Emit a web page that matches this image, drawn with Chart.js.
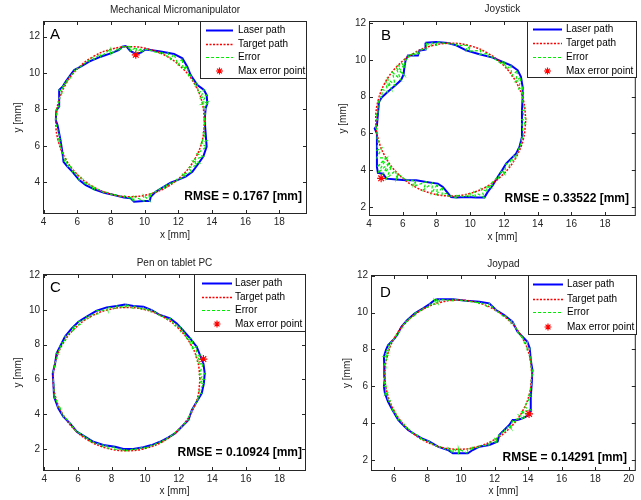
<!DOCTYPE html>
<html>
<head>
<meta charset="utf-8">
<script src="https://cdn.jsdelivr.net/npm/chart.js@4.4.1/dist/chart.umd.min.js"></script>
<style>
  body { margin: 0; background: #fff; }
  #wrap { position: relative; width: 641px; height: 500px; }
  canvas { position: absolute; }
</style>
</head>
<body>
<div id="wrap">
  <canvas id="panelA" width="320" height="250" style="left:0;top:0"></canvas>
  <canvas id="panelB" width="321" height="250" style="left:320px;top:0"></canvas>
  <canvas id="panelC" width="320" height="250" style="left:0;top:250px"></canvas>
  <canvas id="panelD" width="321" height="250" style="left:320px;top:250px"></canvas>
</div>
<script>
// ---- data ----
const titles = ['Mechanical Micromanipulator', 'Joystick', 'Pen on tablet PC', 'Joypad'];
const letters = ['A', 'B', 'C', 'D'];
const rmseText = ['RMSE = 0.1767 [mm]', 'RMSE = 0.33522 [mm]', 'RMSE = 0.10924 [mm]', 'RMSE = 0.14291 [mm]'];
const legendLabels = ['Laser path', 'Target path', 'Error', 'Max error point'];

const xTicksA = [4, 6, 8, 10, 12, 14, 16, 18];
const yTicksA = [4, 6, 8, 10, 12];
const xTicksB = [4, 6, 8, 10, 12, 14, 16, 18];
const yTicksB = [2, 4, 6, 8, 10, 12];
const xTicksC = [4, 6, 8, 10, 12, 14, 16, 18];
const yTicksC = [2, 4, 6, 8, 10, 12];
const xTicksD = [6, 8, 10, 12, 14, 16, 18, 20];
const yTicksD = [2, 4, 6, 8, 10, 12];

// target paths (every 15 degrees, closed)
const targetA = [[13.57,7.33],[13.42,8.40],[12.98,9.39],[12.28,10.24],[11.36,10.90],[10.29,11.31],[9.15,11.45],[8.01,11.31],[6.94,10.90],[6.02,10.24],[5.32,9.39],[4.88,8.40],[4.73,7.33],[4.88,6.26],[5.32,5.27],[6.02,4.42],[6.94,3.76],[8.01,3.35],[9.15,3.21],[10.29,3.35],[11.36,3.76],[12.28,4.42],[12.98,5.27],[13.42,6.26],[13.57,7.33]];
const targetB = [[13.30,6.75],[13.15,7.82],[12.70,8.83],[12.00,9.68],[11.08,10.34],[10.00,10.76],[8.85,10.90],[7.70,10.76],[6.62,10.34],[5.70,9.68],[5.00,8.83],[4.55,7.82],[4.40,6.75],[4.55,5.68],[5.00,4.67],[5.70,3.82],[6.62,3.16],[7.70,2.74],[8.85,2.60],[10.00,2.74],[11.08,3.16],[12.00,3.82],[12.70,4.67],[13.15,5.68],[13.30,6.75]];
const targetC = [[13.27,6.02],[13.12,7.09],[12.68,8.08],[11.99,8.93],[11.09,9.59],[10.03,10.00],[8.90,10.14],[7.77,10.00],[6.71,9.59],[5.81,8.93],[5.12,8.08],[4.68,7.09],[4.53,6.02],[4.68,4.95],[5.12,3.96],[5.81,3.11],[6.71,2.45],[7.77,2.04],[8.90,1.90],[10.03,2.04],[11.09,2.45],[11.99,3.11],[12.68,3.96],[13.12,4.95],[13.27,6.02]];
const targetD = [[14.23,6.63],[14.08,7.68],[13.64,8.66],[12.95,9.49],[12.04,10.14],[10.98,10.54],[9.85,10.68],[8.72,10.54],[7.66,10.14],[6.75,9.49],[6.06,8.66],[5.62,7.68],[5.47,6.63],[5.62,5.58],[6.06,4.60],[6.75,3.77],[7.66,3.12],[8.72,2.72],[9.85,2.58],[10.98,2.72],[12.04,3.12],[12.95,3.77],[13.64,4.60],[14.08,5.58],[14.23,6.63]];

// laser paths
const laserA = [[8.90,11.49],[9.15,11.22],[9.48,11.05],[9.78,11.12],[10.05,11.30],[10.96,11.18],[11.75,11.05],[12.25,10.81],[12.54,10.35],[12.74,9.89],[13.14,9.34],[13.53,9.07],[13.69,8.79],[13.73,8.34],[13.63,8.06],[13.57,7.42],[13.63,6.69],[13.69,5.96],[13.49,5.41],[13.14,4.95],[12.84,4.58],[12.44,4.31],[11.95,4.12],[11.55,3.98],[11.16,3.76],[10.66,3.48],[10.37,3.21],[10.31,2.97],[9.97,2.97],[9.38,2.93],[9.18,3.12],[8.79,3.17],[8.19,3.30],[7.60,3.43],[7.01,3.61],[6.51,3.85],[6.12,4.12],[5.72,4.58],[5.42,4.86],[5.19,5.13],[5.13,5.59],[5.07,5.96],[4.99,6.41],[4.83,7.15],[4.73,7.42],[4.77,7.97],[4.93,8.15],[4.93,8.61],[4.93,9.07],[5.13,9.25],[5.32,9.53],[5.52,9.80],[5.82,10.17],[6.21,10.35],[6.71,10.63],[7.40,10.90],[7.99,11.08],[8.49,11.27],[8.68,11.45],[8.90,11.49]];
const laserB = [[7.35,10.93],[7.98,10.97],[8.67,10.91],[9.17,10.79],[9.76,10.51],[10.55,10.30],[11.34,10.12],[11.93,9.88],[12.42,9.70],[12.82,9.43],[13.01,9.07],[13.11,8.52],[13.11,7.98],[13.07,7.25],[13.07,6.53],[13.07,5.80],[12.92,5.26],[12.72,4.90],[12.42,4.63],[12.13,4.36],[11.89,3.99],[11.63,3.63],[11.34,3.18],[11.04,2.82],[10.84,2.51],[10.35,2.51],[9.76,2.54],[9.17,2.51],[8.87,2.54],[8.67,2.76],[8.38,3.09],[8.08,3.27],[7.39,3.36],[6.80,3.45],[6.21,3.45],[5.62,3.50],[5.03,3.54],[4.83,3.81],[4.53,3.85],[4.47,4.17],[4.47,5.08],[4.47,5.99],[4.34,6.26],[4.47,6.44],[4.53,7.07],[4.59,7.71],[4.75,7.95],[5.10,8.25],[5.55,8.60],[5.90,8.90],[6.05,9.20],[6.10,9.60],[6.17,9.97],[6.31,10.24],[6.90,10.24],[7.00,10.51],[7.35,10.55],[7.35,10.93]];
const laserC = [[8.81,10.31],[9.30,10.22],[9.90,10.18],[10.39,9.99],[10.89,9.70],[11.49,9.51],[11.88,9.22],[12.24,8.84],[12.68,8.36],[13.07,7.88],[13.27,7.40],[13.47,6.92],[13.55,6.35],[13.50,5.77],[13.37,5.20],[13.07,4.72],[12.78,4.24],[12.58,3.67],[12.18,3.28],[11.78,2.90],[11.39,2.67],[10.89,2.42],[10.39,2.23],[9.90,2.10],[9.30,2.00],[8.71,2.00],[8.21,2.13],[7.51,2.23],[6.92,2.42],[6.42,2.71],[5.93,3.00],[5.53,3.48],[5.13,3.86],[4.83,4.34],[4.58,5.01],[4.54,5.77],[4.50,6.35],[4.64,6.92],[4.73,7.50],[4.93,7.88],[5.23,8.46],[5.63,8.93],[6.03,9.32],[6.52,9.61],[7.12,9.95],[7.71,10.14],[8.31,10.22],[8.81,10.31]];
const laserD = [[8.53,10.72],[9.52,10.72],[10.31,10.64],[11.10,10.59],[11.69,10.50],[12.09,10.14],[12.58,9.87],[13.08,9.50],[13.37,8.96],[13.67,8.69],[13.96,8.42],[14.10,8.06],[14.16,7.42],[14.26,6.88],[14.22,6.16],[14.16,5.44],[14.16,4.71],[14.06,4.44],[13.67,4.26],[13.37,4.17],[13.08,4.17],[12.88,3.90],[12.58,3.63],[12.28,3.36],[12.19,3.00],[11.69,2.81],[11.10,2.72],[10.70,2.54],[10.41,2.36],[9.91,2.36],[9.52,2.36],[9.22,2.54],[8.63,2.72],[8.13,3.00],[7.64,3.18],[7.15,3.45],[6.85,3.63],[6.55,3.90],[6.26,4.17],[5.92,4.71],[5.66,5.16],[5.47,5.62],[5.41,5.98],[5.47,6.52],[5.43,7.15],[5.41,7.61],[5.53,7.97],[5.66,8.24],[5.96,8.51],[6.20,8.78],[6.45,9.23],[6.79,9.59],[7.25,9.96],[7.74,10.23],[8.13,10.46],[8.43,10.68],[8.53,10.72]];

// max error points
const starA = [9.48, 11.0];
const starB = [4.72, 3.56];
const starC = [13.47, 7.17];
const starD = [14.06, 4.50];

// ---- look ----
const FONT = '"Liberation Sans", Arial, Helvetica, sans-serif';
const AXIS_COLOR = '#262626';
const LASER_COLOR = '#0000ff';
const TARGET_COLOR = '#ff0000';
const ERROR_COLOR = '#00ee00';

const panels = [
  { id: 'panelA', n: 0, laser: laserA, target: targetA, star: starA, xTicks: xTicksA, yTicks: yTicksA,
    xRange: [3.97, 19.65], yRange: [2.26, 12.86], w: 320, h: 250,
    area: { left: 43, top: 21, right: 307, bottom: 214 },
    titleY: 10, letterPos: [50, 35], rmsePos: [302, 197], xLabelY: 235, yLabelX: 18,
    legend: { left: 200, top: 21, right: 307, bottom: 79, rows: [30, 44, 57, 71], s0: 206, s1: 233, tx: 238 } },
  { id: 'panelB', n: 1, laser: laserB, target: targetB, star: starB, xTicks: xTicksB, yTicks: yTicksB,
    xRange: [4.0, 19.82], yRange: [1.51, 12.11], w: 321, h: 250,
    area: { left: 49, top: 21, right: 317, bottom: 216 },
    titleY: 9, letterPos: [61, 36], rmsePos: [309, 199], xLabelY: 237, yLabelX: 23,
    legend: { left: 207, top: 21, right: 317, bottom: 78, rows: [29, 43, 57, 71], s0: 213, s1: 242, tx: 246 } },
  { id: 'panelC', n: 2, laser: laserC, target: targetC, star: starC, xTicks: xTicksC, yTicks: yTicksC,
    xRange: [3.92, 19.58], yRange: [0.74, 12.06], w: 320, h: 250,
    area: { left: 43, top: 24, right: 306, bottom: 221 },
    titleY: 13, letterPos: [50, 38], rmsePos: [302, 203], xLabelY: 241, yLabelX: 18,
    legend: { left: 194, top: 24, right: 306, bottom: 82, rows: [33, 47, 60, 74], s0: 202, s1: 232, tx: 235 } },
  { id: 'panelD', n: 3, laser: laserD, target: targetD, star: starD, xTicks: xTicksD, yTicks: yTicksD,
    xRange: [4.64, 20.42], yRange: [1.40, 12.04], w: 321, h: 250,
    area: { left: 51, top: 25, right: 317, bottom: 221 },
    titleY: 14, letterPos: [60, 43], rmsePos: [307, 208], xLabelY: 241, yLabelX: 27,
    legend: { left: 208, top: 25, right: 317, bottom: 85, rows: [34, 49, 62, 77], s0: 213, s1: 243, tx: 247 } }
];

// nearest point on a polyline
function nearestOnPath(p, path) {
  let best = path[0], bd = Infinity;
  for (let i = 0; i < path.length - 1; i++) {
    const [x1, y1] = path[i], [x2, y2] = path[i + 1];
    const dx = x2 - x1, dy = y2 - y1;
    const len = dx * dx + dy * dy;
    if (len === 0) continue;
    let t = ((p[0] - x1) * dx + (p[1] - y1) * dy) / len;
    t = Math.max(0, Math.min(1, t));
    const qx = x1 + t * dx, qy = y1 + t * dy;
    const d = (qx - p[0]) ** 2 + (qy - p[1]) ** 2;
    if (d < bd) { bd = d; best = [qx, qy]; }
  }
  return best;
}

// error trace: zig-zag between laser and target, ordered around the target
function errorPoints(laser, target) {
  const pairs = [];
  laser.forEach(pt => pairs.push([pt, nearestOnPath(pt, target)]));
  target.slice(0, -1).forEach(pt => pairs.push([nearestOnPath(pt, laser), pt]));
  const cx = target.reduce((s, t) => s + t[0], 0) / target.length;
  const cy = target.reduce((s, t) => s + t[1], 0) / target.length;
  const ang = q => Math.atan2(q[1] - cy, q[0] - cx);
  pairs.sort((u, v) => ang(u[1]) - ang(v[1]));
  const out = [];
  pairs.forEach(([l, t]) => out.push({ x: l[0], y: l[1] }, { x: t[0], y: t[1] }));
  return out;
}

function drawStar(ctx, x, y, r) {
  ctx.save();
  ctx.strokeStyle = TARGET_COLOR;
  ctx.lineWidth = 1.2;
  ctx.beginPath();
  ctx.moveTo(x - r, y); ctx.lineTo(x + r, y);
  ctx.moveTo(x, y - r); ctx.lineTo(x, y + r);
  const d = r * 0.7;
  ctx.moveTo(x - d, y - d); ctx.lineTo(x + d, y + d);
  ctx.moveTo(x - d, y + d); ctx.lineTo(x + d, y - d);
  ctx.stroke();
  ctx.restore();
}

const panelDeco = {
  id: 'panelDeco',
  afterDraw(chart) {
    const p = chart.options.plugins.panelDeco.panel;
    const ctx = chart.ctx, a = chart.chartArea;
    const xs = chart.scales.x, ys = chart.scales.y;
    ctx.save();

    // box and inward tick marks
    ctx.strokeStyle = AXIS_COLOR;
    ctx.lineWidth = 1;
    ctx.strokeRect(a.left + 0.5, a.top + 0.5, a.right - a.left - 1, a.bottom - a.top - 1);
    ctx.beginPath();
    xs.ticks.forEach(t => {
      const px = Math.round(xs.getPixelForValue(t.value)) + 0.5;
      ctx.moveTo(px, a.bottom); ctx.lineTo(px, a.bottom - 4);
      ctx.moveTo(px, a.top); ctx.lineTo(px, a.top + 4);
    });
    ys.ticks.forEach(t => {
      const py = Math.round(ys.getPixelForValue(t.value)) + 0.5;
      ctx.moveTo(a.left, py); ctx.lineTo(a.left + 4, py);
      ctx.moveTo(a.right, py); ctx.lineTo(a.right - 4, py);
    });
    ctx.stroke();

    // title and axis labels
    ctx.fillStyle = '#222';
    ctx.font = '10px ' + FONT;
    ctx.textAlign = 'center';
    ctx.textBaseline = 'middle';
    const cx = (a.left + a.right) / 2;
    ctx.fillText(titles[p.n], cx, p.titleY);
    ctx.fillText('x [mm]', cx, p.xLabelY);
    ctx.save();
    ctx.translate(p.yLabelX, (a.top + a.bottom) / 2);
    ctx.rotate(-Math.PI / 2);
    ctx.fillText('y [mm]', 0, 0);
    ctx.restore();

    // panel letter
    ctx.fillStyle = '#000';
    ctx.textAlign = 'left';
    ctx.font = '15px ' + FONT;
    ctx.fillText(letters[p.n], p.letterPos[0], p.letterPos[1]);

    // RMSE
    ctx.textAlign = 'right';
    ctx.font = 'bold 12px ' + FONT;
    ctx.fillText(rmseText[p.n], p.rmsePos[0], p.rmsePos[1]);

    // legend box
    const L = p.legend;
    ctx.fillStyle = '#fff';
    ctx.fillRect(L.left, L.top, L.right - L.left, L.bottom - L.top);
    ctx.strokeStyle = AXIS_COLOR;
    ctx.strokeRect(L.left + 0.5, L.top + 0.5, L.right - L.left - 1, L.bottom - L.top - 1);
    const styles = [
      { color: LASER_COLOR, width: 2, dash: [] },
      { color: TARGET_COLOR, width: 1.5, dash: [2, 1.5] },
      { color: ERROR_COLOR, width: 1.2, dash: [3, 2] }
    ];
    styles.forEach((s, i) => {
      ctx.save();
      ctx.strokeStyle = s.color;
      ctx.lineWidth = s.width;
      ctx.setLineDash(s.dash);
      ctx.beginPath();
      ctx.moveTo(L.s0, L.rows[i] + 0.5);
      ctx.lineTo(L.s1, L.rows[i] + 0.5);
      ctx.stroke();
      ctx.restore();
    });
    drawStar(ctx, (L.s0 + L.s1) / 2, L.rows[3], 3.5);
    ctx.fillStyle = '#000';
    ctx.textAlign = 'left';
    ctx.font = '10px ' + FONT;
    legendLabels.forEach((lab, i) => ctx.fillText(lab, L.tx, L.rows[i]));

    ctx.restore();
  }
};

function toPts(arr) { return arr.map(([x, y]) => ({ x, y })); }

function makePanel(p) {
  return new Chart(document.getElementById(p.id), {
    type: 'scatter',
    data: {
      datasets: [
        { label: legendLabels[0], data: toPts(p.laser), showLine: true, borderColor: LASER_COLOR,
          borderWidth: 2, pointRadius: 0, tension: 0, order: 4 },
        { label: legendLabels[1], data: toPts(p.target), showLine: true, borderColor: TARGET_COLOR,
          borderWidth: 1.5, borderDash: [2, 1.5], pointRadius: 0, tension: 0.4, order: 3 },
        { label: legendLabels[2], data: errorPoints(p.laser, p.target), showLine: true, borderColor: ERROR_COLOR,
          borderWidth: 1.2, borderDash: [3, 2], pointRadius: 0, tension: 0, order: 2 },
        { label: legendLabels[3], data: [{ x: p.star[0], y: p.star[1] }], showLine: false,
          pointStyle: 'star', pointRadius: 4, borderColor: TARGET_COLOR, borderWidth: 1.2, order: 1 }
      ]
    },
    options: {
      responsive: false,
      animation: false,
      devicePixelRatio: 1,
      events: [],
      layout: { padding: { top: p.area.top, right: p.w - p.area.right, left: 0, bottom: 0 } },
      plugins: {
        legend: { display: false },
        tooltip: { enabled: false },
        panelDeco: { panel: p }
      },
      scales: {
        x: {
          type: 'linear', min: p.xRange[0], max: p.xRange[1],
          afterBuildTicks: s => { s.ticks = p.xTicks.map(v => ({ value: v })); },
          afterFit: s => { s.height = p.h - p.area.bottom; },
          grid: { display: false, drawTicks: false },
          border: { display: false },
          ticks: { color: AXIS_COLOR, font: { size: 10, family: FONT }, padding: 2, maxRotation: 0, autoSkip: false }
        },
        y: {
          type: 'linear', min: p.yRange[0], max: p.yRange[1],
          afterBuildTicks: s => { s.ticks = p.yTicks.map(v => ({ value: v })); },
          afterFit: s => { s.width = p.area.left; },
          grid: { display: false, drawTicks: false },
          border: { display: false },
          ticks: { color: AXIS_COLOR, font: { size: 10, family: FONT }, padding: 3, autoSkip: false }
        }
      }
    },
    plugins: [panelDeco]
  });
}

panels.forEach(makePanel);
</script>
</body>
</html>
